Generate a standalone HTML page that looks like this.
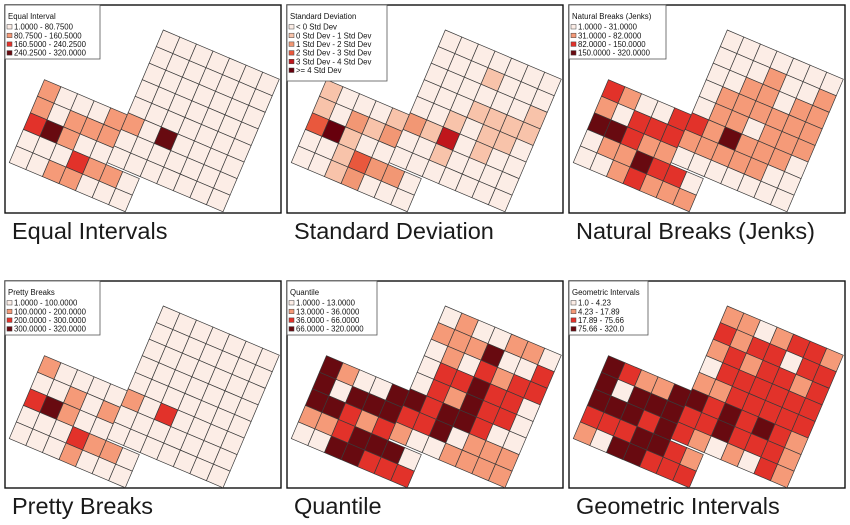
<!DOCTYPE html>
<html><head><meta charset="utf-8"><style>
html,body{margin:0;padding:0;background:#fff;}
svg{display:block;font-family:"Liberation Sans",sans-serif;}
</style></head><body>
<svg id="chart" width="850" height="525" viewBox="0 0 850 525" xmlns="http://www.w3.org/2000/svg">
<rect x="0" y="0" width="850" height="525" fill="#fff"/>
</svg>
<script>
// Map cell classes: rows r0..r9, columns c-5..c6 ('.' = no cell)
const equalClasses = [".....0000000",".....0000000",".....0000000",".....0000000",".....0000000","100011030000","101110000000","231000000000","0002110.....","0011000....."];
const stdClasses   = [".....0000000",".....0001000",".....0000001",".....0001111",".....0010110","100012140100","102120010000","351000000000","0013220.....","0012000....."];
const jenksClasses = [".....0000000",".....0001001",".....0011011",".....0111111",".....0110111","210022131110","102221111100","332110000000","0113220.....","0012111....."];
const prettyClasses= [".....0000000",".....0000000",".....0000000",".....0000000",".....0000000","100001020000","001010000000","231000000000","0002110.....","0001000....."];
const quantClasses = [".....0100110",".....1113002",".....0102122",".....0223220",".....0213220","310033233200","303332230111","332121001111","1123330.....","0033222....."];
const geomClasses  = [".....1101221",".....2122022",".....1212212",".....0222222",".....1122222","321133232321","303332232221","333232101021","2223321.....","1033222....."];

const panelTitles = ["Equal Interval","Standard Deviation","Natural Breaks (Jenks)","Pretty Breaks","Quantile","Geometric Intervals"];
const panelCaptions = ["Equal Intervals","Standard Deviation","Natural Breaks (Jenks)","Pretty Breaks","Quantile","Geometric Intervals"];
const equalLegend = ["1.0000 - 80.7500","80.7500 - 160.5000","160.5000 - 240.2500","240.2500 - 320.0000"];
const stdLegend = ["< 0 Std Dev","0 Std Dev - 1 Std Dev","1 Std Dev - 2 Std Dev","2 Std Dev - 3 Std Dev","3 Std Dev - 4 Std Dev",">= 4 Std Dev"];
const jenksLegend = ["1.0000 - 31.0000","31.0000 - 82.0000","82.0000 - 150.0000","150.0000 - 320.0000"];
const prettyLegend = ["1.0000 - 100.0000","100.0000 - 200.0000","200.0000 - 300.0000","300.0000 - 320.0000"];
const quantLegend = ["1.0000 - 13.0000","13.0000 - 36.0000","36.0000 - 66.0000","66.0000 - 320.0000"];
const geomLegend = ["1.0 - 4.23","4.23 - 17.89","17.89 - 75.66","75.66 - 320.0"];

const pal4 = ["#fcede6","#f59a78","#e2322a","#680a10"];
const pal6 = ["#fcede6","#f8c3aa","#f29774","#e9583d","#c0161c","#67000d"];

const NS="http://www.w3.org/2000/svg";
const svg=document.getElementById('chart');
function mk(tag,attrs,parent){const e=document.createElementNS(NS,tag);for(const k in attrs)e.setAttribute(k,attrs[k]);(parent||svg).appendChild(e);return e;}

const panels=[
 {x:5,y:5,w:276,h:208,cls:equalClasses,leg:equalLegend,pal:pal4,lw:95,name:"equal-interval"},
 {x:287,y:5,w:276,h:208,cls:stdClasses,leg:stdLegend,pal:pal6,lw:100,name:"standard-deviation"},
 {x:569,y:5,w:276,h:208,cls:jenksClasses,leg:jenksLegend,pal:pal4,lw:97,name:"natural-breaks"},
 {x:5,y:281,w:276,h:207,cls:prettyClasses,leg:prettyLegend,pal:pal4,lw:95,name:"pretty-breaks"},
 {x:287,y:281,w:276,h:207,cls:quantClasses,leg:quantLegend,pal:pal4,lw:90,name:"quantile"},
 {x:569,y:281,w:276,h:207,cls:geomClasses,leg:geomLegend,pal:pal4,lw:79,name:"geometric-intervals"}
];
const ang=23*Math.PI/180, cs=18;
const ux=cs*Math.cos(ang), uy=cs*Math.sin(ang), vx=-uy, vy=ux;

panels.forEach((p,i)=>{
  const g=mk('g',{transform:`translate(${p.x},${p.y})`});
  
  
  const bg=mk('rect',{x:0,y:0,width:p.w,height:p.h,fill:'#fff',stroke:'#111','stroke-width':1.4},g);
  
  
  const ox=158.3, oy=25;
  p.cls.forEach((row,r)=>{
    for(let j=0;j<row.length;j++){
      const ch=row[j]; if(ch==='.')continue;
      const c=j-5;
      const off=(c<0||r>=8)?0.12:0;
      const x0=ox+c*ux+(r+off)*vx, y0=oy+c*uy+(r+off)*vy;
      const pts=[[x0,y0],[x0+ux,y0+uy],[x0+ux+vx,y0+uy+vy],[x0+vx,y0+vy]].map(q=>q[0].toFixed(2)+','+q[1].toFixed(2)).join(' ');
      const poly=mk('polygon',{points:pts,fill:p.pal[+ch],stroke:'#3a3a3a','stroke-width':0.7},g);
      
      
    }
  });
  const lh=p.leg.length===6?76:54;
  const lg=mk('g',{},g);
  
  
  mk('rect',{x:0,y:0,width:p.lw,height:lh,fill:'#fff',stroke:'#555','stroke-width':0.8},lg);
  const t=mk('text',{x:3,y:14,'font-size':7.8,fill:'#111'},lg);
  t.textContent=panelTitles[i];
  
  
  p.leg.forEach((lab,k)=>{
    const yy=22+k*8.7;
    const sw=mk('rect',{x:2,y:yy-2.5,width:5,height:4.5,fill:p.pal[k],stroke:'#444','stroke-width':0.5},lg);
    
    
    const tx=mk('text',{x:9,y:yy+2.6,'font-size':7.8,fill:'#111'},lg);
    tx.textContent=lab;
    
    
  });
  const cap=mk('text',{x:p.x+7,y:p.y+p.h+26,'font-size':23.5,fill:'#1a1a1a'});
  cap.textContent=panelCaptions[i];
  
  
});
</script>
</body></html>
